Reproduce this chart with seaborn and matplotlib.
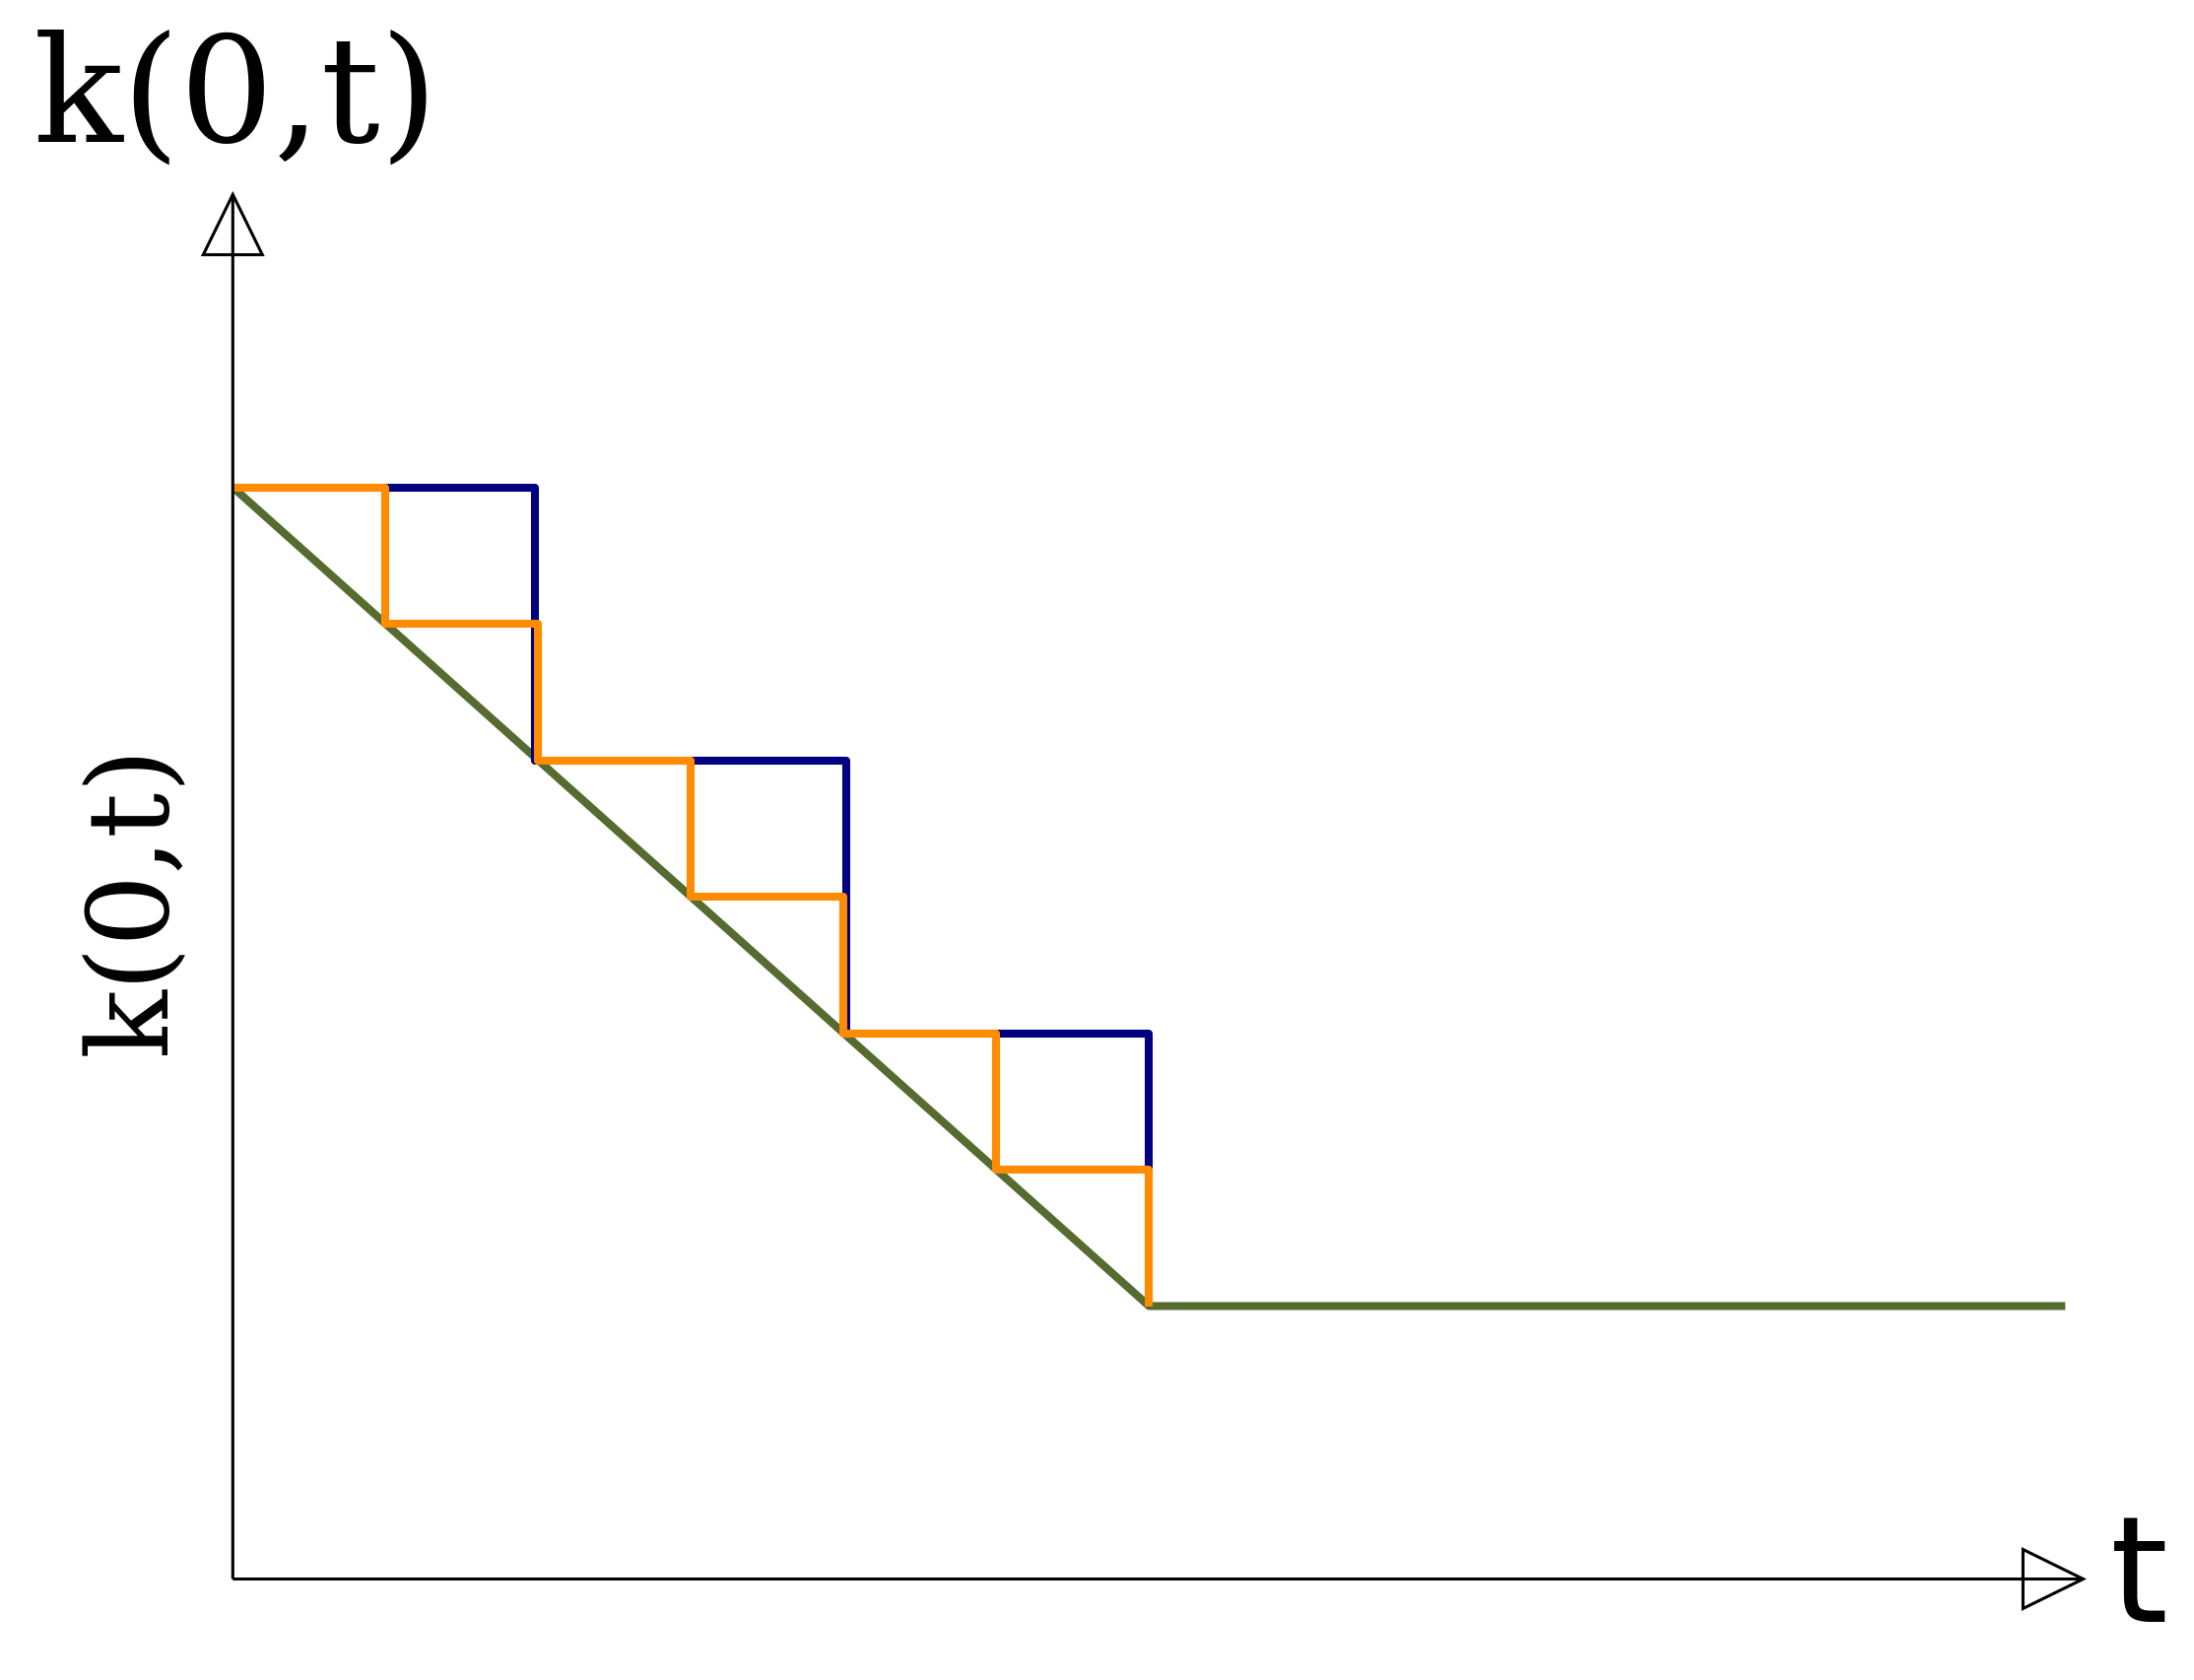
import numpy as np
import pandas as pd
import matplotlib
matplotlib.use("Agg")
import matplotlib.pyplot as plt
import seaborn as sns
from matplotlib.patches import FancyArrowPatch

# ---- data -------------------------------------------------------------
coarse_t = [0, 1.98, 4.02, 6]      # blue step times
coarse_k = [8, 6, 4, 2]            # blue step levels
fine_t = [0, 1, 2, 3, 4, 5, 6]     # orange step times
fine_k = [8, 7, 6, 5, 4, 3, 2]     # orange step levels
ramp_t = [0, 6, 12]                # green piecewise-linear
ramp_k = [8, 2, 2]

x_axis_end = 12.14
y_axis_end = 10.17

ylabel_text = "k(0,t)"
xlabel_text = "t"

COL_BLUE = "#000080"
COL_ORANGE = "#FF8C00"
COL_GREEN = "#556B2F"

# ---- figure -----------------------------------------------------------
sns.set_theme(style="white")
plt.rcParams["font.family"] = ["DejaVu Sans"]
plt.rcParams["text.color"] = "black"

W, H, DPI = 2227, 1705, 100
fig = plt.figure(figsize=(W / DPI, H / DPI), dpi=DPI)
ox, oy = 236.3, 1602.5          # origin in pixels (from top-left)
ux, uy = 155.0, 138.5           # pixels per data unit
xmax, ymax = 12.5, 11.0
ax = fig.add_axes([ox / W, (H - oy) / H, xmax * ux / W, ymax * uy / H])
ax.set_xlim(0, xmax)
ax.set_ylim(0, ymax)
ax.axis("off")

lw = 5.8
common = dict(estimator=None, sort=False, legend=False, ax=ax,
              solid_joinstyle="round", solid_capstyle="butt")

sns.lineplot(x=ramp_t, y=ramp_k, color=COL_GREEN, lw=lw, zorder=2, **common)
sns.lineplot(x=coarse_t, y=coarse_k, color=COL_BLUE, lw=lw, zorder=3,
             drawstyle="steps-post", **common)
sns.lineplot(x=fine_t, y=fine_k, color=COL_ORANGE, lw=lw, zorder=4,
             drawstyle="steps-post", **common)

# axes with open triangular arrow heads
astyle = "-|>,head_length=44,head_width=21.6"
for end in [(x_axis_end, 0), (0, y_axis_end)]:
    arr = FancyArrowPatch((0, 0), end, arrowstyle=astyle, mutation_scale=1,
                          fc="none", ec="black", lw=2.2, shrinkA=0, shrinkB=0,
                          joinstyle="miter", capstyle="butt", zorder=5,
                          clip_on=False)
    ax.add_patch(arr)

# labels
fig.text(34 / W, (H - 143.8) / H, ylabel_text, fontsize=108, color="black",
         family=["DejaVu Serif"], ha="left", va="baseline")
fig.text(136.7 / W, (H - 913) / H, ylabel_text, fontsize=83, color="black",
         family=["DejaVu Serif"], rotation=90, ha="center", va="center")
fig.text(2142 / W, (H - 1646) / H, xlabel_text, fontsize=108, color="black",
         family=["DejaVu Sans"], ha="left", va="baseline")

fig.savefig("out.png", dpi=DPI, facecolor="white")
